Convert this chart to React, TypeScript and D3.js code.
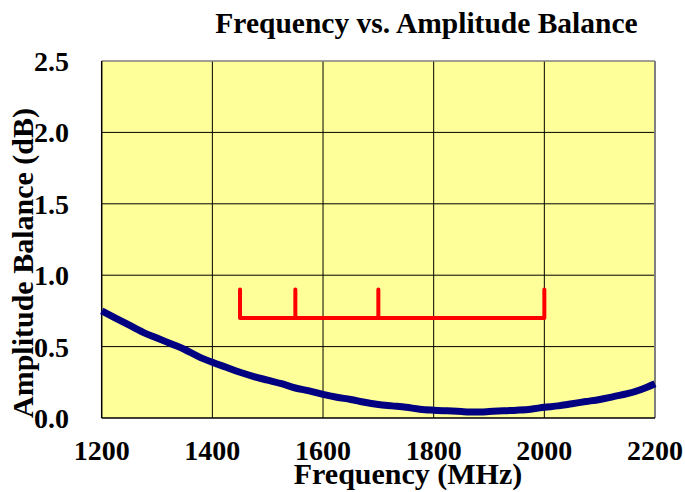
import React from "react";
import * as d3 from "d3";

const freqs = [1200,1225,1250,1275,1300,1325,1350,1375,1400,1425,1450,1475,1500,1525,1550,1575,1600,1625,1650,1675,1700,1725,1750,1775,1800,1825,1850,1875,1900,1925,1950,1975,2000,2025,2050,2075,2100,2125,2150,2175,2200];
const balance = [0.75,0.70,0.65,0.60,0.56,0.52,0.48,0.43,0.39,0.355,0.32,0.29,0.265,0.24,0.21,0.19,0.165,0.145,0.13,0.11,0.095,0.085,0.075,0.062,0.055,0.05,0.045,0.042,0.045,0.05,0.055,0.062,0.075,0.085,0.10,0.115,0.13,0.15,0.17,0.20,0.24];
const markerFreqs = [1450,1550,1700,2000];
const markerBase = 0.7;
const markerTop = 0.9;
const xTicks = [1200,1400,1600,1800,2000,2200];
const yTicks = [0,0.5,1.0,1.5,2.0,2.5];

export default function App() {
  const W = 685, H = 492;
  const L = 101.7, R = 655, T = 61, B = 418;
  const x = d3.scaleLinear().domain([1200,2200]).range([L,R]);
  const y = d3.scaleLinear().domain([0,2.5]).range([B,T]);
  const line = d3.line<number>().x((_, i) => x(freqs[i])).y(d => y(d)).curve(d3.curveMonotoneX);
  const font = "'Liberation Serif', 'Times New Roman', serif";
  const mPath = d3.path();
  mPath.moveTo(x(markerFreqs[0]), y(markerBase));
  mPath.lineTo(x(markerFreqs[markerFreqs.length-1]), y(markerBase));
  markerFreqs.forEach(f => { mPath.moveTo(x(f), y(markerBase)); mPath.lineTo(x(f), y(markerTop)); });
  return (
    <svg width={W} height={H} style={{position:"absolute", left:0, top:0}} fontFamily={font} fontWeight="bold">
      <rect x={0} y={0} width={W} height={H} fill="#fff" />
      <rect x={L} y={T} width={R-L} height={B-T} fill="#FFFF99" />
      {xTicks.slice(1,-1).map(t => (
        <line key={"gx"+t} x1={x(t)} x2={x(t)} y1={T} y2={B} stroke="#000" strokeWidth={1} />
      ))}
      {yTicks.slice(1,-1).map(t => (
        <line key={"gy"+t} x1={L} x2={R} y1={y(t)} y2={y(t)} stroke="#000" strokeWidth={1} />
      ))}
      <line x1={L} x2={R} y1={T} y2={T} stroke="#808080" strokeWidth={1.5} />
      <line x1={R} x2={R} y1={T} y2={B} stroke="#808080" strokeWidth={2} />
      <line x1={L} x2={L} y1={T} y2={B} stroke="#000" strokeWidth={1.5} />
      <line x1={L} x2={R} y1={B} y2={B} stroke="#000" strokeWidth={1.5} />
      <path d={mPath.toString()} fill="none" stroke="#FF0000" strokeWidth={4} strokeLinecap="round" strokeLinejoin="round" />
      <path d={line(balance) || ""} fill="none" stroke="#000080" strokeWidth={7} strokeLinejoin="round" />
      {yTicks.map(t => (
        <text key={"ty"+t} x={69} y={y(t)} dy="0.36em" textAnchor="end" fontSize={28}>{t.toFixed(1)}</text>
      ))}
      {xTicks.map(t => (
        <text key={"tx"+t} x={x(t)} y={460} textAnchor="middle" fontSize={28}>{t}</text>
      ))}
      <text x={426.5} y={33} textAnchor="middle" fontSize={29.5}>Frequency vs. Amplitude Balance</text>
      <text x={408} y={484} textAnchor="middle" fontSize={30}>Frequency (MHz)</text>
      <text transform="translate(33,263) rotate(-90)" textAnchor="middle" fontSize={30}>Amplitude Balance (dB)</text>
    </svg>
  );
}
